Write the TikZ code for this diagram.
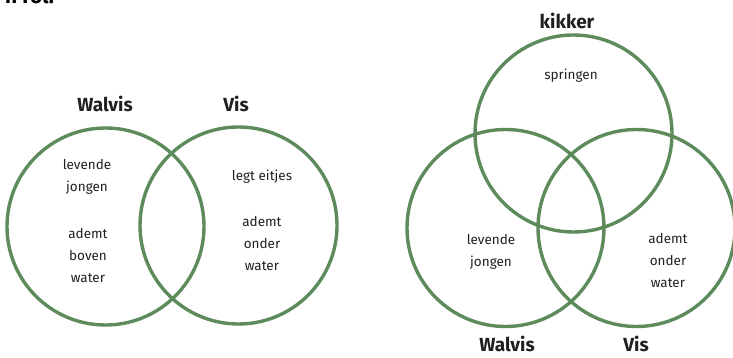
\documentclass[tikz,border=0pt]{standalone}
\usepackage{fontspec}
\setmainfont{Fira Sans}
\definecolor{ringgreen}{HTML}{5E8B5C}
\definecolor{inkgray}{HTML}{231F20}
\begin{document}
\begin{tikzpicture}[x=1pt,y=-1pt,
  ring/.style={circle,draw=ringgreen,line width=3.4pt,minimum size=197pt,inner sep=0pt},
  lbl/.style={align=center,text=inkgray,font=\fontsize{13.5}{22}\selectfont},
  title/.style={text=inkgray,font=\fontsize{19}{22}\selectfont\bfseries}]
 \useasboundingbox (0,0) rectangle (733,358);
 % cut-off line of text above the pictures
 \node[anchor=base east,inner sep=0pt,font=\fontsize{21}{22}\selectfont\bfseries] (kop) at (54,3.5) {n rol.};
 % two sets
 \node[ring] (walvisA) at (105.5,226.5) {};
 \node[ring] (visA) at (238.5,225.5) {};
 \node[title] (tWalvisA) at (105,104) {Walvis};
 \node[title] (tVisA) at (236,104) {Vis};
 \node[lbl] (levA) at (87,177) {levende\\jongen};
 \node[lbl] (bovenA) at (88,256) {ademt\\boven\\water};
 \node[lbl] (eitA) at (262,177) {legt eitjes};
 \node[lbl] (onderA) at (262,244) {ademt\\onder\\water};
 % three sets
 \node[ring] (kikkerB) at (573.5,133.5) {};
 \node[ring] (walvisB) at (505.5,228) {};
 \node[ring] (visB) at (636.5,228) {};
 \node[title] (tKikkerB) at (567,21) {kikker};
 \node[title] (tWalvisB) at (507,344) {Walvis};
 \node[title] (tVisB) at (636,344) {Vis};
 \node[lbl] (springB) at (571,76) {springen};
 \node[lbl] (levB) at (491,252) {levende\\jongen};
 \node[lbl] (onderB) at (668,261) {ademt\\onder\\water};
\end{tikzpicture}
\end{document}
